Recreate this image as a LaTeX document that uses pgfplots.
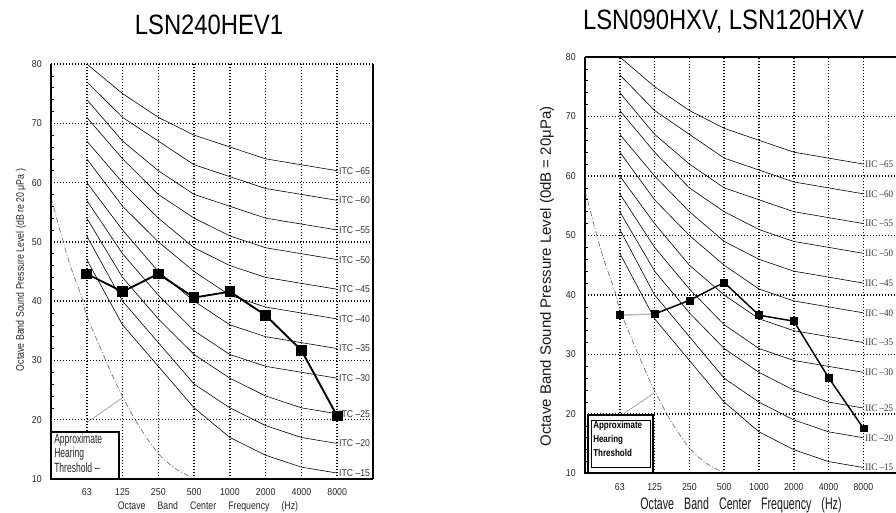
\documentclass[border=0pt]{standalone}
\usepackage{fontspec}
\setmainfont{Liberation Sans}
\usepackage{pgfplots}
\usepackage{pgfplotstable}
\pgfplotsset{compat=1.18}
\newfontfamily\titlefont[FakeStretch=0.85]{Liberation Sans}
\newfontfamily\tickfont[FakeStretch=0.88]{Liberation Sans}
\newfontfamily\labfont[FakeStretch=0.8]{Liberation Sans}
\newfontfamily\condfont[FakeStretch=0.64]{Liberation Sans}
\newfontfamily\legbfont[FakeStretch=0.8]{Liberation Sans Bold}
\newfontfamily\seriffont[FakeStretch=0.9]{Liberation Serif}

% NC / ITC contour values at 63 ... 8000 Hz (x = 1 ... 8)
\pgfplotstableread{
x nc15 nc20 nc25 nc30 nc35 nc40 nc45 nc50 nc55 nc60 nc65
1 47 51 54 57 60 64 67 71 74 77 80
2 36 40 44 48 52 56 60 64 67 71 75
3 29 33 37 41 45 50 54 58 62 67 71
4 22 26 31 35 40 45 49 54 58 63 68
5 17 22 27 31 36 41 46 51 56 61 66
6 14 19 24 29 34 39 44 49 54 59 64
7 12 17 22 28 33 38 43 48 53 58 63
8 11 16 21 27 32 37 42 47 52 57 62
}\nctable

% approximate hearing threshold
\pgfplotstableread{
x y
0 57.5
0.48 47.1
0.85 40.8
1 37.5
1.36 32.4
1.73 27.3
2 23.9
2.47 18.8
3 14.3
3.49 11.7
4 10.1
}\threshold

\pgfplotstableread{
x y
1 44.6
2 41.6
3 44.6
4 40.6
5 41.6
6 37.6
7 31.7
8 20.6
}\leftdata

\pgfplotstableread{
x y
1 36.6
2 36.8
3 39.1
4 42.1
5 36.6
6 35.6
7 26.1
8 17.6
}\rightdata

\pgfplotsset{ncaxis/.style={
  scale only axis, clip=false,
  xmin=0, xmax=9, ymin=10, ymax=80,
  xtick={1,2,3,4,5,6,7,8},
  xticklabels={63,125,250,500,1000,2000,4000,8000},
  ytick={10,20,30,40,50,60,70,80},
  minor y tick num=4,
  xmajorgrids, ymajorgrids,
  major grid style={black, line width=1.15pt, dash pattern=on 1.1pt off 1.15pt},
  axis line style={draw=none},
  major tick length=0pt, minor tick length=2.2pt,
  tick align=inside, xtick pos=bottom, ytick pos=left,
  minor tick style={black, line width=0.5pt},
  /pgf/number format/assume math mode=true,
  tick label style={font=\tickfont\fontsize{7.5}{8}\selectfont, text=black!85},
  yticklabel style={anchor=east, inner sep=0pt, xshift=-6.75pt},
}}

\begin{document}
\begin{tikzpicture}
\path[use as bounding box] (0,0) rectangle (672pt,384.75pt);
\clip (0,0) rectangle (672pt,384.75pt);

% ---------------- left chart ----------------
\begin{axis}[ncaxis, at={(38.25pt,25.5pt)}, anchor=south west,
  width=241.5pt, height=311.25pt,
  xticklabel style={anchor=center, yshift=-9.75pt}]
\pgfplotsinvokeforeach{15,20,...,65}{
  \addplot[black, line width=0.45pt] table[x=x, y=nc#1] {\nctable}
    node[pos=1, anchor=west, inner sep=1.2pt, font=\tickfont\fontsize{7.4}{8}\selectfont, text=black!80] {ITC –#1};
}
\addplot[gray, line width=0.6pt, smooth, dash pattern=on 4pt off 1.5pt on 0.8pt off 1.5pt] table {\threshold};
\addplot[gray!80, line width=0.5pt] coordinates {(1,19.5) (2,23.7)};
\draw[line width=1.5pt, fill=white] (axis cs:0,10) rectangle (axis cs:1.9,17.9);
\addplot[black, line width=1.4pt, mark=square*, mark size=3.3pt] table {\leftdata};
\draw[line width=1.5pt] (rel axis cs:0,1) -- (rel axis cs:0,0) -- (rel axis cs:1,0);
\draw[line width=1pt] (rel axis cs:1,0) -- (rel axis cs:1,1);
\end{axis}

% ---------------- right chart ----------------
\begin{axis}[ncaxis, at={(438.75pt,29.625pt)}, anchor=south west,
  width=234.9pt, height=312.4pt,
  xticklabel style={anchor=center, yshift=-10.1pt}]
\pgfplotsinvokeforeach{15,20,...,65}{
  \addplot[black, line width=0.45pt] table[x=x, y=nc#1] {\nctable}
    node[pos=1, anchor=west, inner sep=1.2pt, font=\seriffont\fontsize{7.5}{8}\selectfont, text=black!80] {IIC –#1};
}
\addplot[gray, line width=0.6pt, smooth, dash pattern=on 4pt off 1.5pt on 0.8pt off 1.5pt] table {\threshold};
\addplot[gray!80, line width=0.5pt] coordinates {(1,19.6) (2,23.6)};
\draw[line width=1.1pt, fill=white] (axis cs:0.086,10) rectangle (axis cs:1.95,19.8);
\draw[line width=0.5pt] (axis cs:0.18,11.0) rectangle (axis cs:1.87,19.0);
\addplot[gray!55, line width=1.1pt] coordinates {(1,36.6) (2,36.8)};
\addplot[black, line width=1.1pt] coordinates {(2,36.8) (3,39.1) (4,42.1) (5,36.6) (6,35.6) (7,26.1) (8,17.6)};
\addplot[black, only marks, mark=square*, mark size=2.6pt] table {\rightdata};
\draw[line width=1.5pt] (rel axis cs:0,1) -- (rel axis cs:0,0) -- (rel axis cs:1,0);
\draw[line width=0.8pt] (rel axis cs:0,1) -- (rel axis cs:1,1);
\end{axis}

% ---------------- texts (pixel coordinates) ----------------
\begin{scope}[x=0.75pt, y=-0.75pt, yshift=384.75pt]
\node[anchor=base, inner sep=0pt, font=\titlefont\fontsize{21}{24}\selectfont] at (209,35) {LSN240HEV1};
\node[anchor=base, inner sep=0pt, font=\titlefont\fontsize{21}{24}\selectfont] at (723.5,30) {LSN090HXV, LSN120HXV};

\node[rotate=90, anchor=center, inner sep=0pt, font=\labfont\fontsize{8.25}{9}\selectfont, text=black!85] at (21,270)
  {Octave Band Sound Pressure Level (dB re 20 μPa )};
\node[rotate=90, anchor=center, inner sep=0pt, font=\fontsize{11.25}{13}\selectfont, text=black!90] at (547,276.5)
  {Octave Band Sound Pressure Level (0dB = 20μPa)};

\node[anchor=base, inner sep=0pt, font=\labfont\fontsize{8.2}{9}\selectfont, text=black!85] at (208,509.5)
  {Octave\hspace{9pt}Band\hspace{9pt}Center\hspace{9pt}Frequency\hspace{9pt}(Hz)};
\node[anchor=base, inner sep=0pt, font=\condfont\fontsize{12.5}{14}\selectfont, text=black!90] at (741,509.5)
  {Octave\hspace{7.5pt}Band\hspace{7.5pt}Center\hspace{7.5pt}Frequency\hspace{7.5pt}(Hz)};

\begin{scope}[every node/.style={anchor=base west, inner sep=0pt, font=\condfont\fontsize{10}{11}\selectfont, text=black!85}]
\node at (54,444) {Approximate};
\node at (54,458) {Hearing};
\node at (54,473) {Threshold --};
\end{scope}
\begin{scope}[every node/.style={anchor=base west, inner sep=0pt, font=\legbfont\fontsize{7.5}{8}\selectfont}]
\node at (593,429) {Approximate};
\node at (593,443) {Hearing};
\node at (593,457) {Threshold};
\end{scope}
\end{scope}
\end{tikzpicture}
\end{document}
